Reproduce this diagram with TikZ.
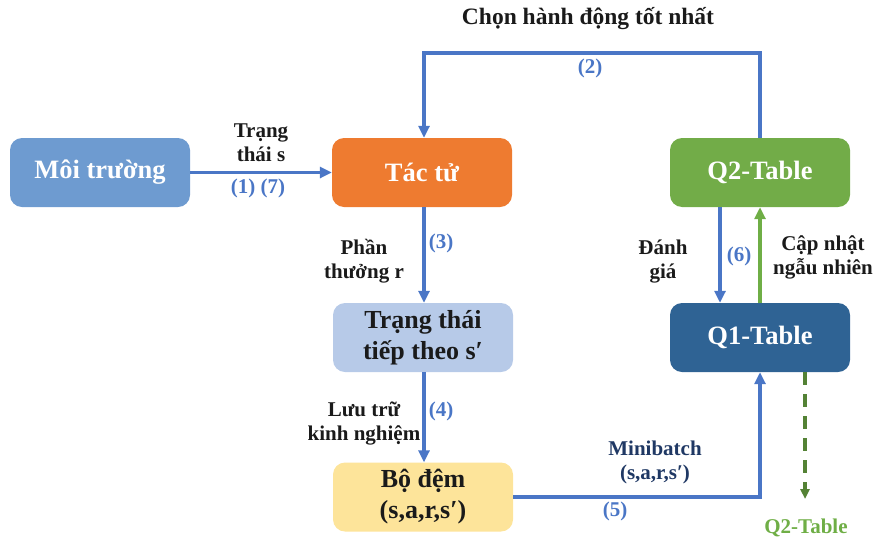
\documentclass[tikz,border=0pt]{standalone}
\usepackage{fontspec}
\setmainfont{Liberation Serif}
\usetikzlibrary{arrows.meta,positioning}
\definecolor{envc}{HTML}{6E9BD0}
\definecolor{agentc}{HTML}{EE7B30}
\definecolor{qtwo}{HTML}{72AC48}
\definecolor{nextc}{HTML}{B7CAE8}
\definecolor{qone}{HTML}{2F6394}
\definecolor{bufc}{HTML}{FDE49A}
\definecolor{lblue}{HTML}{4A76C6}
\definecolor{lgreen}{HTML}{6FAE46}
\definecolor{dgreen}{HTML}{548235}
\definecolor{navy}{HTML}{1F3864}
\definecolor{txt}{HTML}{1A1A1A}
\tikzset{
  box/.style={rounded corners=12pt, minimum width=180pt, minimum height=69pt, inner sep=0pt, align=center, font=\fontsize{26.5}{28}\selectfont\bfseries},
  wbox/.style={box, text=white},
  dbox/.style={box, text=txt},
  conn/.style={draw=lblue, line width=3.4pt, -{Triangle[length=12pt,width=11pt]}},
  gconn/.style={draw=lgreen, line width=3.4pt, -{Triangle[length=12pt,width=11pt]}},
  lbl/.style={font=\fontsize{21}{24}\selectfont\bfseries, text=txt, align=center, inner sep=0pt},
  num/.style={font=\fontsize{21}{24}\selectfont\bfseries, text=lblue, inner sep=0pt},
}
\begin{document}
\begin{tikzpicture}[x=1pt,y=-1pt]
\useasboundingbox (0,0) rectangle (890,541);
\node[wbox, fill=envc] (env) at (100,172.5) {Môi trường};
\node[wbox, fill=agentc] (agent) at (422,172.5) {Tác tử};
\node[wbox, fill=qtwo] (q2) at (760,172.5) {Q2-Table};
\node[dbox, fill=nextc, font=\fontsize{26}{31}\selectfont\bfseries] (next) at (423,337.5) {Trạng thái\\tiếp theo s′};
\node[wbox, fill=qone] (q1) at (760,337.5) {Q1-Table};
\node[dbox, fill=bufc, font=\fontsize{26}{31}\selectfont\bfseries] (buf) at (423,497) {Bộ đệm\\(s,a,r,s′)};

\coordinate (topR) at (760,53);
\coordinate (topL) at (424,53);
\coordinate (bufR) at (760,497);
\coordinate (dashEnd) at (805,499);

% (1)(7)
\draw[conn] (env.east) -- (agent.west);
\node[lbl] (lstate) at (261,143) {Trạng\\thái s};
\node[num] (n17) at (258,188) {(1) (7)};

% (2)
\draw[conn] (q2.north) -- (topR) -- (topL) -- (agent.north -| topL);
\node[lbl, font=\fontsize{23.5}{26}\selectfont\bfseries] (lbest) at (588,19) {Chọn hành động tốt nhất};
\node[num] (n2) at (590,68) {(2)};

% (3)
\draw[conn] (agent.south -| topL) -- (next.north -| topL);
\node[lbl] (lreward) at (364,261) {Phần\\thưởng r};
\node[num] (n3) at (441,243) {(3)};

% (4)
\draw[conn] (next.south -| topL) -- (buf.north -| topL);
\node[lbl] (lstore) at (364,423) {Lưu trữ\\kinh nghiệm};
\node[num] (n4) at (441,411) {(4)};

% (5)
\draw[conn] (buf.east) -- (bufR) -- (q1.south);
\node[lbl, text=navy] (lmini) at (655,462) {Minibatch\\(s,a,r,s′)};
\node[num] (n5) at (615,511) {(5)};

% (6)
\draw[conn] (q2.south -| 720,0) -- (q1.north -| 720,0);
\node[lbl] (leval) at (663,262) {Đánh\\giá};
\node[num] (n6) at (739,256) {(6)};

% update
\draw[gconn] (q1.north) -- (q2.south);
\node[lbl] (lupd) at (823,257) {Cập nhật\\ngẫu nhiên};

% dashed
\draw[draw=dgreen, line width=3.2pt, dash pattern=on 13pt off 9pt, -{Triangle[length=10pt,width=9pt]}] (q1.south -| dashEnd) -- (dashEnd);
\node[lbl, text=lgreen] (lq2) at (806,528) {Q2-Table};
\end{tikzpicture}
\end{document}
